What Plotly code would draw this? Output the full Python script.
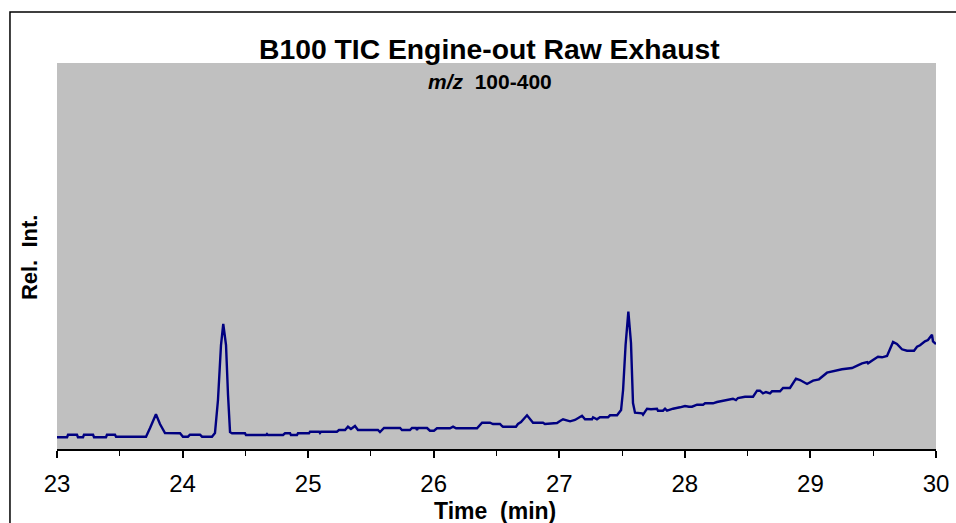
import plotly.graph_objects as go

# Retention time (min) and relative intensity (arbitrary units)
time_min = [
    23.000, 23.080, 23.088, 23.159, 23.167, 23.207, 23.215, 23.287, 23.295, 23.390,
    23.398, 23.462, 23.470, 23.709, 23.741, 23.788, 23.820, 23.860, 23.980, 24.003,
    24.043, 24.059, 24.139, 24.155, 24.234, 24.258, 24.282, 24.306, 24.324, 24.346,
    24.362, 24.378, 24.394, 24.497, 24.505, 24.664, 24.672, 24.680, 24.800, 24.816,
    24.856, 24.863, 24.911, 24.919, 25.007, 25.015, 25.087, 25.094, 25.102, 25.229,
    25.246, 25.294, 25.317, 25.341, 25.373, 25.397, 25.556, 25.572, 25.604, 25.732,
    25.747, 25.811, 25.827, 25.859, 25.867, 25.875, 25.947, 25.970, 26.002, 26.026,
    26.130, 26.154, 26.178, 26.345, 26.385, 26.448, 26.472, 26.528, 26.544, 26.552,
    26.655, 26.671, 26.695, 26.743, 26.791, 26.870, 26.886, 26.982, 27.006, 27.030,
    27.086, 27.125, 27.181, 27.205, 27.261, 27.269, 27.300, 27.324, 27.388, 27.404,
    27.460, 27.476, 27.492, 27.508, 27.528, 27.550, 27.571, 27.587, 27.603, 27.659,
    27.667, 27.699, 27.730, 27.778, 27.786, 27.826, 27.842, 27.858, 27.906, 27.961,
    28.001, 28.033, 28.057, 28.097, 28.145, 28.161, 28.224, 28.256, 28.320, 28.383,
    28.407, 28.423, 28.479, 28.543, 28.575, 28.598, 28.622, 28.646, 28.678, 28.694,
    28.758, 28.782, 28.837, 28.885, 28.917, 28.973, 29.021, 29.068, 29.132, 29.196,
    29.251, 29.331, 29.371, 29.411, 29.451, 29.459, 29.498, 29.538, 29.570, 29.610,
    29.658, 29.689, 29.729, 29.769, 29.825, 29.849, 29.873, 29.912, 29.936, 29.968,
    29.976, 30.000,
]
rel_int = [
    11.7, 11.7, 14.3, 14.3, 11.7, 11.7, 14.3, 14.3, 11.7, 11.7,
    14.3, 14.3, 12.3, 12.3, 21.0, 34.7, 25.0, 16.0, 15.7, 12.3,
    12.3, 14.3, 14.3, 12.3, 12.3, 16.0, 49.0, 104.0, 125.0, 104.0,
    54.0, 17.0, 15.7, 15.7, 14.0, 14.0, 15.0, 14.0, 14.0, 15.7,
    15.7, 14.0, 14.0, 15.7, 15.7, 17.3, 17.3, 16.0, 17.3, 17.3,
    19.0, 19.0, 22.3, 20.0, 23.0, 19.0, 19.0, 17.0, 21.0, 21.0,
    19.0, 19.0, 21.0, 21.0, 19.0, 21.0, 21.0, 18.3, 18.3, 20.7,
    20.7, 22.3, 20.7, 20.7, 26.3, 26.3, 25.0, 25.0, 23.0, 22.3,
    22.3, 25.0, 27.0, 33.7, 26.3, 26.3, 25.0, 26.0, 28.0, 29.7,
    27.7, 29.0, 33.3, 29.7, 29.7, 31.7, 29.7, 31.7, 31.7, 33.7,
    33.7, 36.0, 39.0, 59.0, 104.0, 137.3, 106.0, 46.0, 36.3, 35.7,
    34.3, 40.3, 39.7, 40.3, 38.3, 38.3, 40.3, 38.3, 40.3, 41.7,
    43.0, 42.3, 42.3, 44.3, 44.3, 45.7, 45.7, 47.0, 49.0, 50.3,
    49.0, 51.0, 52.3, 52.3, 58.3, 58.3, 55.7, 57.0, 55.7, 57.7,
    57.7, 61.0, 61.0, 70.3, 69.0, 65.0, 68.3, 69.7, 76.3, 78.3,
    79.7, 81.0, 83.7, 85.7, 87.0, 85.7, 89.0, 92.3, 91.7, 93.0,
    107.0, 105.0, 99.7, 98.3, 98.3, 102.3, 103.7, 107.7, 109.0, 114.3,
    107.7, 105.0,
]
x_ticks = [23, 24, 25, 26, 27, 28, 29, 30]

FONT = "Liberation Sans, Arial, sans-serif"

fig = go.Figure()
fig.add_trace(go.Scatter(
    x=time_min, y=rel_int, mode="lines",
    line=dict(color="#000080", width=2.4),
    showlegend=False, hoverinfo="skip",
))

fig.update_layout(
    width=956, height=523,
    margin=dict(l=57, r=20, t=63, b=74, autoexpand=False),
    paper_bgcolor="white",
    plot_bgcolor="#C0C0C0",
    font=dict(family=FONT, color="black"),
    xaxis=dict(
        range=[23, 30], tickvals=x_ticks, ticktext=[str(t) for t in x_ticks],
        ticks="outside", ticklen=7, tickwidth=1.5, tickcolor="black",
        showline=True, linecolor="black", linewidth=1.5,
        showgrid=False, zeroline=False, automargin=False,
        ticklabelstandoff=5,
        tickfont=dict(size=24, family=FONT, color="black"),
        minor=dict(ticks="outside", ticklen=5, tickwidth=1.2, tickcolor="black", dtick=0.5, showgrid=False),
    ),
    yaxis=dict(
        range=[0, 386], showticklabels=False, showgrid=False, zeroline=False,
        showline=False, ticks="", automargin=False,
    ),
    shapes=[dict(
        type="rect", xref="paper", yref="paper",
        x0=-0.0535, x1=1.2, y0=-0.4, y1=1.1321,
        line=dict(color="black", width=1.5), fillcolor="rgba(0,0,0,0)", layer="above",
    )],
    annotations=[
        dict(text="<b>B100 TIC Engine-out Raw Exhaust</b>", xref="paper", yref="paper",
             x=0.4915, y=1.036, xanchor="center", yanchor="middle", showarrow=False,
             font=dict(size=28.3, family=FONT, color="black")),
        dict(text="<b><i>m/z</i>\u00a0\u00a0100-400</b>", xref="paper", yref="paper",
             x=0.4926, y=0.9508, xanchor="center", yanchor="middle", showarrow=False,
             font=dict(size=21, family=FONT, color="black")),
        dict(text="<b>Time\u00a0\u00a0(min)</b>", xref="paper", yref="paper",
             x=0.498, y=-0.16, xanchor="center", yanchor="middle", showarrow=False,
             font=dict(size=23, family=FONT, color="black")),
        dict(text="<b>Rel.\u00a0\u00a0Int.</b>", xref="paper", yref="paper",
             x=-0.0319, y=0.497, xanchor="center", yanchor="middle", showarrow=False,
             textangle=-90, font=dict(size=22, family=FONT, color="black")),
    ],
)

fig.write_html("out.html")
